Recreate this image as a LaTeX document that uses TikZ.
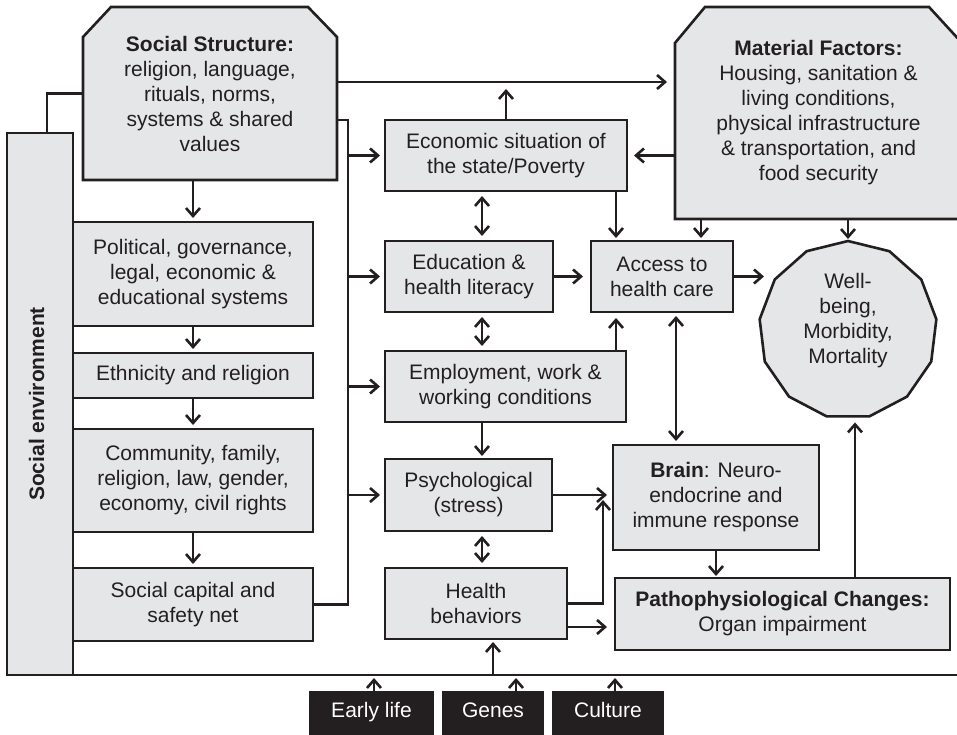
\documentclass[tikz,border=0pt]{standalone}
\usepackage{fontspec}
\setmainfont{Liberation Sans}
\usetikzlibrary{arrows.meta,shapes.geometric,backgrounds}
\definecolor{ink}{RGB}{35,31,32}
\definecolor{panel}{RGB}{229,230,232}

\begin{document}
\begin{tikzpicture}[x=1pt,y=-1pt,
  every node/.style={font=\fontsize{21}{25}\selectfont, align=center,
    inner sep=0pt, outer sep=0pt, text=ink},
  box/.style={draw=ink, fill=panel, line width=2.6pt},
  tag/.style={fill=ink, text=white, text height=15pt, text depth=13pt},
  link/.style={draw=ink, line width=2.6pt},
  tip/.tip={Straight Barb[length=8pt,width=14pt]},
  arr/.style={link, -tip, shorten >=6pt},
  dbl/.style={link, tip-tip, shorten >=5pt, shorten <=5pt},
]
\useasboundingbox (0,0) rectangle (957,735);
\clip (0,0) rectangle (957,735);

% ---------- social environment column ----------
\node[box, minimum width=66pt, minimum height=542pt] (bar) at (40,404) {};
\node[rotate=90, font=\bfseries\fontsize{21}{25}\selectfont] (bartext)
  at ([xshift=-3.5pt]bar.center) {Social environment};

\node[minimum width=254pt, minimum height=173pt] (ss) at (210,93.5)
  {\textbf{Social Structure:}\\religion, language,\\rituals, norms,\\systems \& shared\\values};

\node[box, minimum width=240pt, minimum height=104pt] (pol) at (193,274)
  {Political, governance,\\legal, economic \&\\educational systems};
\node[box, minimum width=240pt, minimum height=45pt] (eth) at (193,375.5)
  {Ethnicity and religion};
\node[box, minimum width=240pt, minimum height=103pt] (com) at (193,480.5)
  {Community, family,\\religion, law, gender,\\economy, civil rights};
\node[box, minimum width=240pt, minimum height=73pt] (cap) at (193,604.5)
  {Social capital and\\safety net};

% ---------- middle column ----------
\node[box, minimum width=242pt, minimum height=71pt] (eco) at (506,155.5)
  {Economic situation of\\the state/Poverty};
\node[box, minimum width=168pt, minimum height=71pt] (edu) at (469,276.5)
  {Education \&\\health literacy};
\node[box, minimum width=241pt, minimum height=71pt] (emp) at (505.5,386.5)
  {Employment, work \&\\working conditions};
\node[box, minimum width=167pt, minimum height=72pt] (psy) at (468.5,495)
  {Psychological\\(stress)};
\node[box, minimum width=182pt, minimum height=71pt] (hb) at (476,603.5)
  {Health\\behaviors};

% ---------- right part ----------
\node[minimum width=287pt, minimum height=212pt] (mat) at (818.5,113)
  {\textbf{Material Factors:}\\Housing, sanitation \&\\living conditions,\\physical infrastructure\\\& transportation, and\\food security};
\node[box, minimum width=142pt, minimum height=71pt] (acc) at (662,276.5)
  {Access to\\health care};
\node[box, regular polygon, regular polygon sides=13, minimum size=178pt] (wb) at (848,330) {};
\node (wbtext) at ([yshift=9pt]wb.center) {Well-\\being,\\Morbidity,\\Mortality};
\node[box, minimum width=206pt, minimum height=105pt] (brain) at (716,497.5)
  {\textbf{Brain}: Neuro-\\endocrine and\\immune response};
\node[box, minimum width=335pt, minimum height=72pt] (pat) at (782.5,614)
  {\textbf{Pathophysiological Changes:}\\Organ impairment};

% ---------- bottom factors ----------
\node[tag, minimum width=125pt, minimum height=50pt] (early) at (371.5,716) {Early life};
\node[tag, minimum width=102pt, minimum height=50pt] (genes) at (493,716) {Genes};
\node[tag, minimum width=112pt, minimum height=50pt] (cult) at (608,716) {Culture};

% chamfered outlines of the two header boxes
\begin{scope}[on background layer]
  \filldraw[box] (ss.south west) -- ([yshift=-30pt]ss.north west)
    -- ([xshift=28pt]ss.north west) -- ([xshift=-29pt]ss.north east)
    -- ([yshift=-30pt]ss.north east) -- (ss.south east) -- cycle;
  \filldraw[box] (mat.south west) -- ([yshift=-36pt]mat.north west)
    -- ([xshift=30pt]mat.north west) -- ([xshift=-33pt]mat.north east)
    -- ([yshift=-36pt]mat.north east) -- (mat.south east) -- cycle;
\end{scope}

% ---------- routing points ----------
\coordinate (busx) at (348,0);
\coordinate (colA) at (482,0);
\coordinate (colB) at (616,0);
\coordinate (colC) at (701,0);
\coordinate (colD) at (676,0);
\coordinate (colE) at (855,0);
\coordinate (colF) at (493,0);
\coordinate (xEarly) at (374,0);
\coordinate (xGenes) at (516,0);
\coordinate (xCult) at (615,0);
\coordinate (hbturn) at (603,500);
\coordinate (rimend) at (960,675);
\coordinate (ssA) at ([yshift=11.5pt]ss.east);
\coordinate (ssB) at ([yshift=-26.5pt]ss.east);
\coordinate (hbB) at ([yshift=-23.5pt]hb.east);

% ---------- connectors ----------
\draw[link] (bar.south west) -- (rimend);
\draw[link] ([xshift=40pt]bar.north west) |- (ss.west);

\draw[arr, shorten >=8pt] (ssA) -- (ssA -| mat.west);
\draw[arr, shorten >=7pt] (eco.north) -- (eco.north |- ssA);

\draw[link] (ssB) -| (busx |- cap.east) -- (cap.east);
\foreach \t in {eco,edu,emp,psy}
  \draw[arr, shorten >=5pt] (busx |- \t.west) -- (\t.west);

\draw[arr, shorten >=4pt] (pol.north |- ss.south) -- (pol.north);
\draw[arr, shorten >=4pt] (pol.south) -- (eth.north);
\draw[arr, shorten >=4pt] (eth.south) -- (com.north);
\draw[arr, shorten >=4pt] (com.south) -- (cap.north);

\draw[arr, shorten >=7pt] (mat.west |- eco.east) -- (eco.east);
\draw[dbl] (colA |- eco.south) -- (colA |- edu.north);
\draw[dbl] (colA |- edu.south) -- (colA |- emp.north);
\draw[arr, shorten >=3pt] (colA |- emp.south) -- (colA |- psy.north);
\draw[dbl] (colA |- psy.south) -- (colA |- hb.north);

\draw[arr, shorten >=3pt] (colB |- eco.south) -- (colB |- acc.north);
\draw[arr, shorten >=6pt] (colB |- emp.north) -- (colB |- acc.south);
\draw[arr, shorten >=3pt] (colC |- mat.south) -- (colC |- acc.north);
\draw[arr, shorten >=2pt] (wb.north |- mat.south) -- (wb.north);

\draw[arr, shorten >=8pt] (edu.east) -- (acc.west);
\draw[arr, shorten >=-3pt] (acc.east) -- (acc.east -| wb.west);
\draw[dbl, shorten <=4pt, shorten >=4pt] (colD |- acc.south) -- (colD |- brain.north);

\draw[arr] (psy.east) -- (psy.east -| brain.west);
\draw[arr, shorten >=0pt] (hb.east) -| (hbturn);
\draw[arr, shorten >=8pt] (hbB) -- (hbB -| pat.west);
\draw[arr, shorten >=2pt] (brain.south) -- (brain.south |- pat.north);
\draw[arr] (colE |- pat.north) -- (colE |- wb.south);

\draw[arr, shorten >=3pt] (colF |- bar.south) -- (colF |- hb.south);
\draw[arr, shorten >=3pt] (xEarly |- early.north) -- (xEarly |- bar.south);
\draw[arr, shorten >=3pt] (xGenes |- genes.north) -- (xGenes |- bar.south);
\draw[arr, shorten >=3pt] (xCult |- cult.north) -- (xCult |- bar.south);
\end{tikzpicture}
\end{document}
